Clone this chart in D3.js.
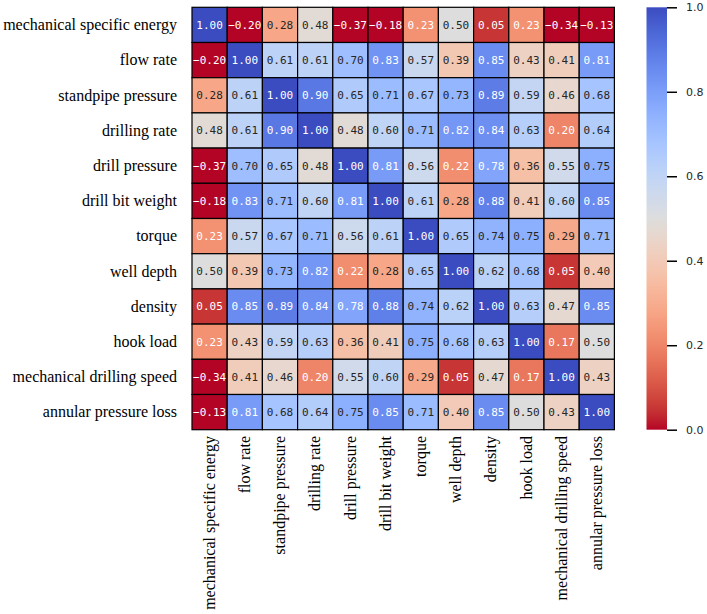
<!DOCTYPE html>
<html>
<head>
<meta charset="utf-8">
<script src="https://cdn.jsdelivr.net/npm/d3@7"></script>
<style>
  body { margin: 0; background: #fff; }
</style>
</head>
<body>
<svg id="chart"></svg>
<script>
const variables = ['mechanical specific energy', 'flow rate', 'standpipe pressure', 'drilling rate',
  'drill pressure', 'drill bit weight', 'torque', 'well depth', 'density', 'hook load',
  'mechanical drilling speed', 'annular pressure loss'];

const rowMSE = [1.00, -0.20, 0.28, 0.48, -0.37, -0.18, 0.23, 0.50, 0.05, 0.23, -0.34, -0.13];
const rowFlowRate = [-0.20, 1.00, 0.61, 0.61, 0.70, 0.83, 0.57, 0.39, 0.85, 0.43, 0.41, 0.81];
const rowStandpipe = [0.28, 0.61, 1.00, 0.90, 0.65, 0.71, 0.67, 0.73, 0.89, 0.59, 0.46, 0.68];
const rowDrillingRate = [0.48, 0.61, 0.90, 1.00, 0.48, 0.60, 0.71, 0.82, 0.84, 0.63, 0.20, 0.64];
const rowDrillPressure = [-0.37, 0.70, 0.65, 0.48, 1.00, 0.81, 0.56, 0.22, 0.78, 0.36, 0.55, 0.75];
const rowBitWeight = [-0.18, 0.83, 0.71, 0.60, 0.81, 1.00, 0.61, 0.28, 0.88, 0.41, 0.60, 0.85];
const rowTorque = [0.23, 0.57, 0.67, 0.71, 0.56, 0.61, 1.00, 0.65, 0.74, 0.75, 0.29, 0.71];
const rowWellDepth = [0.50, 0.39, 0.73, 0.82, 0.22, 0.28, 0.65, 1.00, 0.62, 0.68, 0.05, 0.40];
const rowDensity = [0.05, 0.85, 0.89, 0.84, 0.78, 0.88, 0.74, 0.62, 1.00, 0.63, 0.47, 0.85];
const rowHookLoad = [0.23, 0.43, 0.59, 0.63, 0.36, 0.41, 0.75, 0.68, 0.63, 1.00, 0.17, 0.50];
const rowMechSpeed = [-0.34, 0.41, 0.46, 0.20, 0.55, 0.60, 0.29, 0.05, 0.47, 0.17, 1.00, 0.43];
const rowAnnular = [-0.13, 0.81, 0.68, 0.64, 0.75, 0.85, 0.71, 0.40, 0.85, 0.50, 0.43, 1.00];

const matrix = [rowMSE, rowFlowRate, rowStandpipe, rowDrillingRate, rowDrillPressure, rowBitWeight,
  rowTorque, rowWellDepth, rowDensity, rowHookLoad, rowMechSpeed, rowAnnular];

const colorbarTicks = [0, 0.2, 0.4, 0.6, 0.8, 1.0];

// matplotlib coolwarm (Moreland) stops, blue -> red
const coolwarmStops = [
  [59, 76, 192], [68, 90, 204], [77, 104, 215], [87, 117, 225], [98, 130, 234], [108, 142, 241],
  [119, 154, 247], [130, 165, 251], [141, 176, 254], [152, 185, 255], [163, 194, 255], [174, 201, 253],
  [184, 208, 249], [194, 213, 244], [204, 217, 238], [213, 219, 230], [221, 221, 221], [229, 216, 209],
  [236, 211, 197], [241, 204, 185], [245, 196, 173], [247, 187, 160], [247, 177, 148], [247, 166, 135],
  [244, 154, 123], [241, 141, 111], [236, 127, 99], [229, 112, 88], [222, 96, 77], [213, 80, 66],
  [203, 62, 56], [192, 40, 47], [180, 4, 38]
].map(c => d3.rgb(c[0], c[1], c[2]).formatHex());

const coolwarm = d3.piecewise(d3.interpolateRgb, coolwarmStops);
// reversed map, clipped to [0, 1]
const color = v => coolwarm(1 - Math.max(0, Math.min(1, v)));

const width = 707;
const height = 614;
const gridLeft = 192;
const gridTop = 7.3;
const gridSize = 422.4;

const svg = d3.select('#chart')
  .attr('width', width)
  .attr('height', height);

const x = d3.scaleBand().domain(variables).range([gridLeft, gridLeft + gridSize]);
const y = d3.scaleBand().domain(variables).range([gridTop, gridTop + gridSize]);

const cells = [];
matrix.forEach((row, i) => row.forEach((v, j) => cells.push({ r: variables[i], c: variables[j], v })));

const lum = col => {
  const c = d3.rgb(col);
  const f = u => { u /= 255; return u <= 0.03928 ? u / 12.92 : Math.pow((u + 0.055) / 1.055, 2.4); };
  return 0.2126 * f(c.r) + 0.7152 * f(c.g) + 0.0722 * f(c.b);
};

svg.append('g')
  .selectAll('rect')
  .data(cells)
  .enter().append('rect')
  .attr('x', d => x(d.c))
  .attr('y', d => y(d.r))
  .attr('width', x.bandwidth())
  .attr('height', y.bandwidth())
  .attr('fill', d => color(d.v))
  .attr('stroke', '#000')
  .attr('stroke-width', 1.2);

const fmt = d3.format('.2f');
svg.append('g')
  .selectAll('text')
  .data(cells)
  .enter().append('text')
  .attr('x', d => x(d.c) + x.bandwidth() / 2)
  .attr('y', d => y(d.r) + y.bandwidth() / 2)
  .attr('dy', '0.36em')
  .attr('text-anchor', 'middle')
  .attr('font-family', '"DejaVu Sans Mono", monospace')
  .attr('font-size', 11)
  .attr('fill', d => lum(color(d.v)) > 0.408 ? '#262626' : '#ffffff')
  .text(d => fmt(d.v));

// row labels
svg.append('g')
  .selectAll('text')
  .data(variables)
  .enter().append('text')
  .attr('x', 177)
  .attr('y', d => y(d) + y.bandwidth() / 2)
  .attr('dy', '0.33em')
  .attr('text-anchor', 'end')
  .attr('font-family', '"Liberation Serif", "Times New Roman", serif')
  .attr('font-size', 16)
  .attr('fill', '#000')
  .text(d => d);

// column labels
svg.append('g')
  .selectAll('text')
  .data(variables)
  .enter().append('text')
  .attr('transform', d => `translate(${x(d) + x.bandwidth() / 2}, 436) rotate(-90)`)
  .attr('dy', '0.33em')
  .attr('text-anchor', 'end')
  .attr('font-family', '"Liberation Serif", "Times New Roman", serif')
  .attr('font-size', 16)
  .attr('fill', '#000')
  .text(d => d);

// colorbar
const cbX = 646.5;
const cbW = 20.5;
const defs = svg.append('defs');
const grad = defs.append('linearGradient')
  .attr('id', 'cbgrad')
  .attr('x1', 0).attr('y1', 1).attr('x2', 0).attr('y2', 0);
d3.range(0, 1.0001, 0.02).forEach(t => {
  grad.append('stop')
    .attr('offset', t)
    .attr('stop-color', color(t));
});

svg.append('rect')
  .attr('x', cbX)
  .attr('y', gridTop)
  .attr('width', cbW)
  .attr('height', gridSize)
  .attr('fill', 'url(#cbgrad)');

const cbScale = d3.scaleLinear().domain([0, 1]).range([gridTop + gridSize, gridTop]);
const cbAxis = svg.append('g')
  .attr('transform', `translate(${cbX + cbW}, 0)`)
  .call(d3.axisRight(cbScale).tickValues(colorbarTicks).tickFormat(d3.format('.1f')).tickSize(10).tickPadding(9));
cbAxis.select('.domain').remove();
cbAxis.selectAll('line').attr('stroke', '#000').attr('stroke-width', 1.5);
cbAxis.selectAll('text')
  .attr('font-family', '"DejaVu Sans", sans-serif')
  .attr('font-size', 11)
  .attr('fill', '#262626');
</script>
</body>
</html>
